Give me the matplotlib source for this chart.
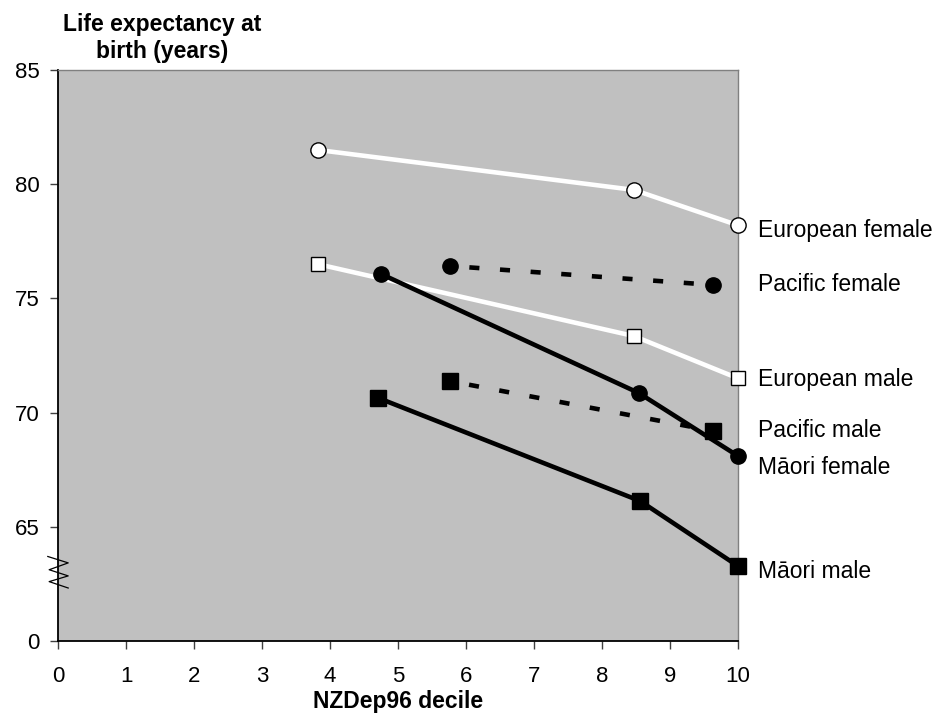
import numpy as np
import matplotlib
matplotlib.use("Agg")
import matplotlib.pyplot as plt

plt.rcParams['font.family'] = ['Liberation Sans', 'DejaVu Sans']

# ==== DATA ====
euro_f_x = [3.82, 8.47, 10.0]
euro_f_y = [81.5, 79.75, 78.2]
euro_m_x = [3.82, 8.47, 10.0]
euro_m_y = [76.5, 73.35, 71.5]
pac_f_x = [5.76, 9.63]
pac_f_y = [76.42, 75.59]
pac_m_x = [5.76, 9.63]
pac_m_y = [71.38, 69.2]
maori_f_x = [4.75, 8.54, 10.0]
maori_f_y = [76.07, 70.86, 68.1]
maori_m_x = [4.71, 8.56, 10.0]
maori_m_y = [70.64, 66.13, 63.28]

x_ticks = list(range(0, 11))
y_ticks = [60, 65, 70, 75, 80, 85]          # 60 sits where the broken axis shows 0
y_tick_labels = ['0', '65', '70', '75', '80', '85']

# ==== FIGURE ====
fig = plt.figure(figsize=(9.35, 7.2), dpi=100)
ax = fig.add_axes([58 / 935, 1 - 641 / 720, 680 / 935, 571 / 720])
ax.set_facecolor('#C0C0C0')

DASH = (2.4, (2.2, 4.5))
LW = 3.3
MS = 11

# european - white lines, open markers
ax.plot(euro_f_x, euro_f_y, color='white', lw=LW, marker='o', ms=MS,
        mfc='white', mec='black', mew=1.0, zorder=3, clip_on=False)
ax.plot(euro_m_x, euro_m_y, color='white', lw=LW, marker='s', ms=MS - 0.5,
        mfc='white', mec='black', mew=1.0, zorder=3, clip_on=False)

# pacific - dashed black
ax.plot(pac_f_x, pac_f_y, color='black', lw=LW, ls=DASH,
        marker='o', ms=MS, mfc='black', mec='black', zorder=4, clip_on=False)
ax.plot(pac_m_x, pac_m_y, color='black', lw=LW, ls=DASH,
        marker='s', ms=MS, mfc='black', mec='black', zorder=4, clip_on=False)

# maori - solid black
ax.plot(maori_f_x, maori_f_y, color='black', lw=LW, marker='o', ms=MS,
        mfc='black', mec='black', zorder=5, clip_on=False)
ax.plot(maori_m_x, maori_m_y, color='black', lw=LW, marker='s', ms=MS,
        mfc='black', mec='black', zorder=5, clip_on=False)

# series labels to the right of the plot
labels = [
    ('European female', euro_f_y[-1], -4),
    ('Pacific female', pac_f_y[-1], 0),
    ('European male', euro_m_y[-1], -1),
    ('Pacific male', pac_m_y[-1], 0),
    ('M\u0101ori female', maori_f_y[-1], -8),
    ('M\u0101ori male', maori_m_y[-1], -4),
]
for name, yv, dy in labels:
    ax.annotate(name, xy=(1.029, yv), xycoords=('axes fraction', 'data'),
                xytext=(0, dy), textcoords='offset points',
                ha='left', va='center', fontsize=16.5, annotation_clip=False)

# ==== AXES ====
ax.set_xlim(0, 10)
ax.set_ylim(60, 85)
ax.set_xticks(x_ticks)
ax.set_yticks(y_ticks)
ax.set_yticklabels(y_tick_labels)
ax.tick_params(axis='both', labelsize=16, direction='out', length=6,
               width=1, color='#404040')
ax.tick_params(axis='y', pad=7)
ax.tick_params(axis='x', pad=12)

ax.spines['left'].set_linewidth(1.3)
ax.spines['bottom'].set_linewidth(1.3)
ax.spines['top'].set_color('#808080')
ax.spines['right'].set_color('#808080')
ax.spines['top'].set_linewidth(1)
ax.spines['right'].set_linewidth(1)

# axis break zigzag on the y axis
zz_x = [-0.15, 0.15, -0.13, 0.15, -0.13, 0.15]
zz_y = [63.7, 63.42, 63.12, 62.85, 62.6, 62.32]
ax.plot(zz_x, zz_y, color='black', lw=0.9, clip_on=False, zorder=6)

ax.set_xlabel('NZDep96 decile', fontsize=16.5, fontweight='bold', labelpad=2)
fig.text(162 / 935, 1 - 38 / 720, 'Life expectancy at\nbirth (years)',
         ha='center', va='center', fontsize=16.5, fontweight='bold',
         linespacing=1.25)

fig.savefig('out.png', dpi=100)
